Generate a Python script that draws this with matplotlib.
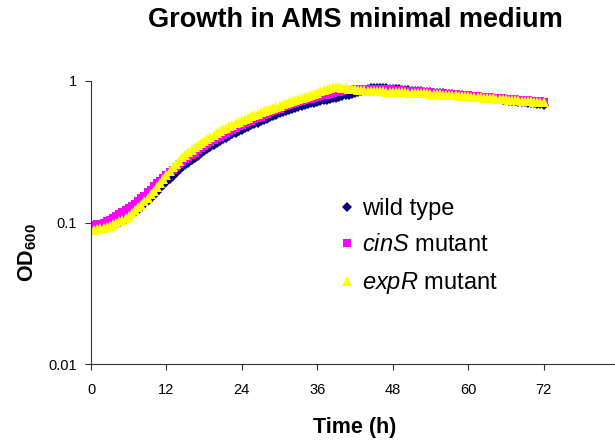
import numpy as np
import matplotlib
matplotlib.use("Agg")
import matplotlib.pyplot as plt

plt.rcParams['font.family'] = ['Liberation Sans', 'DejaVu Sans']
plt.rcParams['mathtext.fontset'] = 'custom'
plt.rcParams['mathtext.rm'] = 'Liberation Sans'
plt.rcParams['mathtext.bf'] = 'Liberation Sans:bold'
plt.rcParams['mathtext.it'] = 'Liberation Sans:italic'

# sampling every 0.5 h from 0 to 72 h
time_h = np.arange(0, 72.5, 0.5)

wild_type = [
    0.092, 0.092, 0.092, 0.093, 0.093, 0.094, 0.095, 0.096, 0.098, 0.100,
    0.103, 0.106, 0.110, 0.114, 0.118, 0.123, 0.129, 0.135, 0.142, 0.149,
    0.157, 0.165, 0.174, 0.183, 0.193, 0.203, 0.213, 0.224, 0.235, 0.245,
    0.255, 0.265, 0.275, 0.286, 0.297, 0.308, 0.319, 0.330, 0.342, 0.353,
    0.364, 0.375, 0.386, 0.397, 0.408, 0.419, 0.430, 0.441, 0.452, 0.463,
    0.474, 0.485, 0.496, 0.507, 0.519, 0.531, 0.543, 0.555, 0.567, 0.579,
    0.591, 0.602, 0.613, 0.624, 0.635, 0.645, 0.655, 0.665, 0.675, 0.685,
    0.695, 0.704, 0.713, 0.722, 0.731, 0.740, 0.748, 0.756, 0.764, 0.772,
    0.780, 0.790, 0.801, 0.813, 0.825, 0.838, 0.851, 0.864, 0.877, 0.888,
    0.895, 0.897, 0.895, 0.891, 0.887, 0.883, 0.879, 0.875, 0.871, 0.867,
    0.863, 0.859, 0.855, 0.852, 0.848, 0.844, 0.840, 0.836, 0.832, 0.828,
    0.824, 0.820, 0.816, 0.812, 0.808, 0.804, 0.800, 0.796, 0.791, 0.787,
    0.782, 0.778, 0.774, 0.770, 0.766, 0.762, 0.758, 0.754, 0.750, 0.745,
    0.741, 0.737, 0.732, 0.728, 0.724, 0.720, 0.716, 0.712, 0.708, 0.703,
    0.699, 0.694, 0.689, 0.684, 0.679,
]

cinS_mutant = [
    0.095, 0.096, 0.097, 0.098, 0.100, 0.102, 0.105, 0.108, 0.111, 0.114,
    0.118, 0.122, 0.126, 0.131, 0.136, 0.142, 0.148, 0.155, 0.163, 0.171,
    0.180, 0.189, 0.198, 0.207, 0.216, 0.226, 0.236, 0.246, 0.257, 0.268,
    0.279, 0.290, 0.301, 0.312, 0.323, 0.334, 0.345, 0.357, 0.369, 0.381,
    0.393, 0.405, 0.417, 0.429, 0.441, 0.453, 0.465, 0.477, 0.489, 0.501,
    0.513, 0.525, 0.537, 0.549, 0.561, 0.574, 0.587, 0.600, 0.613, 0.626,
    0.639, 0.651, 0.663, 0.675, 0.687, 0.698, 0.709, 0.720, 0.731, 0.741,
    0.751, 0.761, 0.771, 0.781, 0.791, 0.801, 0.811, 0.821, 0.831, 0.840,
    0.849, 0.857, 0.864, 0.870, 0.875, 0.879, 0.882, 0.884, 0.885, 0.885,
    0.884, 0.882, 0.880, 0.877, 0.874, 0.871, 0.868, 0.865, 0.862, 0.859,
    0.856, 0.853, 0.850, 0.847, 0.844, 0.841, 0.838, 0.835, 0.832, 0.829,
    0.826, 0.822, 0.819, 0.815, 0.812, 0.808, 0.805, 0.801, 0.798, 0.794,
    0.791, 0.787, 0.784, 0.780, 0.777, 0.773, 0.770, 0.767, 0.764, 0.761,
    0.758, 0.755, 0.752, 0.749, 0.746, 0.743, 0.740, 0.737, 0.734, 0.731,
    0.728, 0.725, 0.722, 0.719, 0.716,
]

expR_mutant = [
    0.089, 0.089, 0.090, 0.091, 0.092, 0.093, 0.095, 0.097, 0.099, 0.102,
    0.105, 0.108, 0.112, 0.117, 0.122, 0.128, 0.134, 0.141, 0.149, 0.158,
    0.168, 0.179, 0.191, 0.204, 0.218, 0.232, 0.246, 0.260, 0.274, 0.288,
    0.301, 0.314, 0.327, 0.340, 0.353, 0.366, 0.379, 0.392, 0.405, 0.418,
    0.431, 0.443, 0.455, 0.467, 0.479, 0.491, 0.503, 0.515, 0.527, 0.539,
    0.551, 0.563, 0.575, 0.587, 0.599, 0.611, 0.623, 0.635, 0.647, 0.659,
    0.671, 0.683, 0.695, 0.707, 0.719, 0.731, 0.743, 0.756, 0.769, 0.782,
    0.795, 0.810, 0.826, 0.843, 0.861, 0.880, 0.896, 0.905, 0.906, 0.902,
    0.897, 0.891, 0.885, 0.879, 0.874, 0.869, 0.864, 0.860, 0.856, 0.853,
    0.850, 0.848, 0.846, 0.844, 0.842, 0.840, 0.838, 0.836, 0.834, 0.832,
    0.830, 0.828, 0.826, 0.824, 0.822, 0.820, 0.818, 0.816, 0.814, 0.811,
    0.808, 0.805, 0.802, 0.799, 0.796, 0.793, 0.790, 0.787, 0.784, 0.781,
    0.778, 0.775, 0.772, 0.769, 0.766, 0.763, 0.760, 0.757, 0.754, 0.751,
    0.748, 0.745, 0.742, 0.739, 0.736, 0.733, 0.730, 0.727, 0.724, 0.721,
    0.718, 0.715, 0.712, 0.709, 0.706,
]

series_labels = ['wild type', r'$\it{cinS}$ mutant', r'$\it{expR}$ mutant']
x_ticks = [0, 12, 24, 36, 48, 60, 72]
y_ticks = [0.01, 0.1, 1]
y_tick_labels = ['0.01', '0.1', '1']

fig = plt.figure(figsize=(6.15, 4.41), dpi=100)
ax = fig.add_axes([91 / 615, 77 / 441, 528 / 615, 283 / 441])

ax.plot(time_h, wild_type, linestyle='none', marker='D', markersize=5.2,
        color='#000080', markeredgewidth=0, label=series_labels[0])
ax.plot(time_h, cinS_mutant, linestyle='none', marker='s', markersize=5.5,
        color='#FF00FF', markeredgewidth=0, label=series_labels[1])
ax.plot(time_h, expR_mutant, linestyle='none', marker='^', markersize=7,
        color='#FFFF00', markeredgewidth=0, label=series_labels[2])

ax.set_yscale('log')
ax.set_ylim(0.01, 1)
ax.set_xlim(0, 84)
ax.set_xticks(x_ticks)
ax.set_xticklabels([str(v) for v in x_ticks])
ax.set_yticks(y_ticks)
ax.set_yticklabels(y_tick_labels)
ax.yaxis.set_minor_locator(matplotlib.ticker.NullLocator())
ax.tick_params(axis='both', which='major', direction='out', length=4,
               width=0.8, color='#333333', labelsize=10.5, pad=6)
ax.tick_params(axis='x', pad=10)

for s in ['top', 'right']:
    ax.spines[s].set_visible(False)
for s in ['left', 'bottom']:
    ax.spines[s].set_color('#333333')
    ax.spines[s].set_linewidth(0.8)

ax.set_xlabel('Time (h)', fontsize=15.5, fontweight='bold', labelpad=14)
fig.text(28 / 615, 1 - 253 / 441, r'$\mathbf{OD}_{\mathbf{600}}$', rotation=90,
         ha='center', va='center', fontsize=15.5)

fig.text(355 / 615, 1 - 20 / 441, 'Growth in AMS minimal medium',
         ha='center', va='center', fontsize=19.5, fontweight='bold')

leg = ax.legend(loc='upper left', bbox_to_anchor=((340 - 91) / 528, (364 - 198) / 283),
                frameon=False, fontsize=17, handlelength=0.6, handletextpad=0.33,
                labelspacing=0.6, borderaxespad=0, borderpad=0)

fig.savefig('out.png', dpi=100)
